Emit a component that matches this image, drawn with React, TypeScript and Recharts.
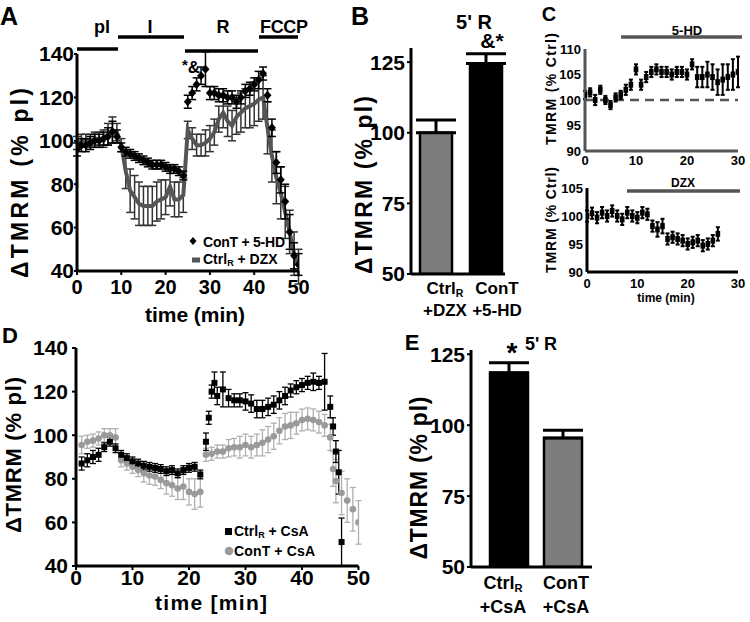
import React from 'react';
import { ComposedChart, BarChart, Bar, Line, XAxis, YAxis, ErrorBar, Cell, ReferenceLine } from 'recharts';

const FONT = '"Liberation Sans", Arial, Helvetica, sans-serif';

// A: TMRM time course (min), ConT + 5-HD vs CtrlR + DZX
const timeA = [0, 1, 2, 3, 4, 5, 6, 7, 8, 9, 10, 11, 12, 13, 14, 15, 16, 17, 18, 19, 20, 21, 22, 23, 24, 25, 26, 27, 28, 29, 30, 31, 32, 33, 34, 35, 36, 37, 38, 39, 40, 41, 42, 43, 44, 45, 46, 47, 48, 49, 50];
const conT5HD = [96, 98, 98, 99, 100, 100, 101, 102, 104, 102, 97, 95, 94, 93, 92, 91, 90, 89, 89, 89, 88, 87, 87, 86, 84, 118, 122, 126, 130, 133, 122, 122, 121, 121, 120, 120, 118, 120, 123, 124, 126, 128, 131, 121, 106, 90, 82, 72, 58, 47, 43];
const conT5HDErr = [3, 3, 3, 3, 3, 3, 3, 4, 5, 3, 2, 2, 2, 2, 2, 2, 2, 2, 2, 2, 2, 2, 2, 2, 2, 3, 3, 3, 4, 8, 3, 3, 3, 3, 3, 3, 3, 3, 3, 3, 3, 4, 3, 3, 4, 5, 6, 8, 8, 6, 5];
const ctrlDZX = [99, 100, 100, 100, 101, 101, 101, 103, 105, 104, 98, 86, 77, 74, 71, 70, 70, 70, 72, 73, 74, 79, 73, 73, 75, 105, 101, 98, 98, 99, 101, 104, 110, 113, 109, 107, 111, 113, 115, 116, 117, 119, 120, 106, 93, 83, 76, 67, 58, 48, 42];
const ctrlDZXErr = [3, 3, 3, 3, 3, 3, 4, 5, 6, 4, 3, 8, 10, 10, 10, 9, 9, 9, 9, 9, 8, 9, 8, 8, 8, 4, 5, 5, 5, 6, 6, 6, 6, 7, 7, 7, 8, 9, 9, 10, 10, 10, 10, 12, 12, 12, 12, 12, 10, 10, 8];
const ticksAX = [0, 10, 20, 30, 40, 50];
const ticksAY = [40, 60, 80, 100, 120, 140];

// B: 5' reperfusion bars
const catB = ['CtrlR + DZX', 'ConT + 5-HD'];
const valB = [100, 124.5];
const errB = [4.5, 3.5];
const tickMainB = ['Ctrl', 'ConT'];
const tickSubB = ['R', ''];
const tickLine2B = ['+DZX', '+5-HD'];
const ticksBY = [50, 75, 100, 125];

// C: TMRM (% Ctrl) with 5-HD (top) and DZX (bottom)
const timeC5HD = [0, 1, 2, 3, 4, 5, 6, 7, 8, 9, 10, 11, 12, 13, 14, 15, 16, 17, 18, 19, 20, 21, 22, 23, 24, 25, 26, 27, 28, 29, 30];
const tmrm5HD = [101, 101.5, 100, 102, 100, 99, 100.5, 101, 102, 103, 106, 103, 104.5, 105.5, 106, 105.5, 105.5, 105, 105.5, 105.5, 105, 107, 104.5, 104.5, 105, 104.5, 103.5, 104, 104.5, 105, 105.5];
const tmrm5HDErr = [0.8, 0.8, 1, 0.8, 0.8, 0.8, 0.8, 0.8, 1, 1, 1, 1, 1, 1, 1, 1, 1, 1, 1, 1, 1, 1, 2, 2, 2.5, 2.5, 2.5, 3, 2.5, 3, 3];
const timeCDZX = [0, 1, 2, 3, 4, 5, 6, 7, 8, 9, 10, 11, 12, 13, 14, 15, 16, 17, 18, 19, 20, 21, 22, 23, 24, 25, 26];
const tmrmDZX = [100, 100.5, 99.7, 100.6, 100, 100.9, 100, 99.4, 100.6, 100, 99.7, 100.6, 100.3, 98.2, 97.6, 98.2, 95.9, 96.2, 95.9, 95.6, 95, 95.3, 95.6, 94.7, 95, 95.6, 96.8];
const tmrmDZXErr = [1, 1, 1, 1, 1, 1, 1, 1, 1, 1, 1, 1, 1, 1, 1.3, 1.3, 1, 1, 1, 1, 1, 1, 1, 1, 1, 1, 1.2];
const ticksCX = [0, 10, 20, 30];
const ticksCTopY = [90, 95, 100, 105, 110];
const ticksCBotY = [90, 95, 100, 105];

// D: CsA time course
const timeDCtrl = [1, 2, 3, 4, 5, 6, 7, 8, 9, 10, 11, 12, 13, 14, 15, 16, 17, 18, 19, 20, 21, 22, 23, 23.5, 24, 24.5, 25, 26, 27, 28, 29, 30, 31, 32, 33, 34, 35, 36, 37, 38, 39, 40, 41, 42, 43, 44, 45, 45.5, 46, 46.5, 47];
const ctrlCsA = [87, 88.5, 90, 91, 94.5, 97, 94, 91, 89.5, 88, 87, 86, 85.5, 85, 84.5, 83.5, 84, 82.5, 84, 85, 85.5, 82, 97, 108, 120, 124, 118, 121, 117, 116, 116, 115.5, 114.5, 112, 112, 113, 114, 116, 118, 120.5, 122, 123, 124, 124.5, 124, 124.5, 113, 104, 92.5, 83, 51];
const ctrlCsAErr = [3, 3, 3, 3, 2, 2, 2, 2, 2, 2, 2, 2, 2, 2, 2, 2, 2, 2, 2, 2, 2, 2, 4, 3, 3, 5, 4, 8, 4, 3, 3, 4, 4, 4, 4, 4, 4, 4, 4, 3, 3, 3, 3, 4, 3, 13, 5, 4, 5, 10, 11];
const timeDConT = [1, 2, 3, 4, 5, 6, 7, 8, 9, 10, 11, 12, 13, 14, 15, 16, 17, 18, 19, 20, 21, 22, 23, 24, 25, 26, 27, 28, 29, 30, 31, 32, 33, 34, 35, 36, 37, 38, 39, 40, 41, 42, 43, 44, 45, 45.5, 46, 47, 48, 49, 50];
const conTCsA = [95.5, 97, 97.5, 98.5, 100, 100, 99, 88.5, 87, 85.5, 84, 82.5, 81.5, 81, 79.5, 78, 77, 75.5, 76.5, 74, 73, 74, 91, 91.5, 92.5, 92.5, 94, 94.5, 94.5, 95.5, 94.5, 95.5, 96.5, 98, 99.5, 102, 104, 104.5, 105.5, 107, 107.5, 107, 106, 104.5, 99, 84.5, 79, 73.5, 70, 66, 60];
const conTCsAErr = [4, 3, 3, 3, 3, 3, 4, 3, 3, 3, 3, 4, 4, 4, 4, 5, 5, 5, 6, 6, 7, 7, 3, 3, 3, 3, 4, 4, 5, 5, 5, 5, 6, 6, 6, 6, 6, 6, 5, 5, 5, 5, 5, 5, 6, 8, 10, 10, 10, 10, 10];

// E: 5' reperfusion with CsA
const catE = ['CtrlR + CsA', 'ConT + CsA'];
const valE = [118.5, 95.5];
const errE = [3.5, 2.7];
const tickMainE = ['Ctrl', 'ConT'];
const tickSubE = ['R', ''];
const tickLine2E = ['+CsA', '+CsA'];

const rowsA = timeA.map((t, i) => ({ t, a: conT5HD[i], aErr: conT5HDErr[i], b: ctrlDZX[i], bErr: ctrlDZXErr[i] }));
// bar error bars only point upward
const rowsB = catB.map((name, i) => ({ name, v: valB[i], e: [0, errB[i]] }));
const rowsC5HD = timeC5HD.map((t, i) => ({ t, v: tmrm5HD[i], e: tmrm5HDErr[i] }));
const rowsCDZX = timeCDZX.map((t, i) => ({ t, v: tmrmDZX[i], e: tmrmDZXErr[i] }));
const rowsDCtrl = timeDCtrl.map((t, i) => ({ t, v: ctrlCsA[i], e: ctrlCsAErr[i] }));
const rowsDConT = timeDConT.map((t, i) => ({ t, v: conTCsA[i], e: conTCsAErr[i] }));
const rowsE = catE.map((name, i) => ({ name, v: valE[i], e: [0, errE[i]] }));

const axisBlack = { stroke: '#000', strokeWidth: 3 };
const tickLineBlack = { stroke: '#000', strokeWidth: 2 };
const tickBig = { fill: '#000', fontSize: 21, fontWeight: 'bold', fontFamily: FONT };
const tickSmall = { fill: '#000', fontSize: 13, fontWeight: 'bold', fontFamily: FONT };

const diamond = (p: any) =>
  p.cy == null ? null : (
    <path key={`dm${p.index}`} d={`M${p.cx},${p.cy - 4.5}L${p.cx + 4},${p.cy}L${p.cx},${p.cy + 4.5}L${p.cx - 4},${p.cy}Z`} fill="#000" />
  );
const square = (p: any) =>
  p.cy == null ? null : <rect key={`sq${p.index}`} x={p.cx - 3} y={p.cy - 3} width={6} height={6} fill="#000" />;
const circle = (p: any) =>
  p.cy == null ? null : <circle key={`ci${p.index}`} cx={p.cx} cy={p.cy} r={3.3} fill="#9a9a9a" />;
const dash = (p: any) =>
  p.cy == null ? null : <rect key={`ds${p.index}`} x={p.cx - 2.3} y={p.cy - 3} width={4.6} height={6} fill="#000" />;

const BarTick = (props: any) => {
  const { x, y, payload, cats, main, sub, line2, shift, size } = props;
  const i = cats.indexOf(payload.value);
  const cx = x + shift[i];
  return (
    <g>
      <text x={cx} y={y + shift[2]} textAnchor="middle" dominantBaseline="central" fontSize={size} fontWeight="bold" fontFamily={FONT} fill="#000">
        {main[i]}
        {sub[i] ? (
          <tspan fontSize={size * 0.62} dy={5}>{sub[i]}</tspan>
        ) : null}
      </text>
      <text x={cx} y={y + shift[3]} textAnchor="middle" dominantBaseline="central" fontSize={size} fontWeight="bold" fontFamily={FONT} fill="#000">
        {line2[i]}
      </text>
    </g>
  );
};

const T = ({ x, y, size, children, anchor = 'middle', len, rot, fill = '#000' }: any) => (
  <text
    x={x}
    y={y}
    fontSize={size}
    fontWeight="bold"
    fontFamily={FONT}
    fill={fill}
    textAnchor={anchor}
    dominantBaseline="central"
    textLength={len}
    lengthAdjust={len ? 'spacing' : undefined}
    transform={rot ? `rotate(-90 ${x} ${y})` : undefined}
  >
    {children}
  </text>
);

const pos = (left: number, top: number): React.CSSProperties => ({ position: 'absolute', left, top });

export default function App() {
  return (
    <div style={{ position: 'absolute', left: 0, top: 0, width: 750, height: 622, background: '#fff', overflow: 'hidden' }}>
      {/* A */}
      <div style={pos(0, 0)}>
        <ComposedChart width={312} height={300} data={rowsA} margin={{ top: 54, right: 13.5, bottom: 0, left: 0 }}>
          <XAxis dataKey="t" type="number" domain={[0, 50]} ticks={ticksAX} interval={0} height={29} axisLine={axisBlack} tickLine={tickLineBlack} tickSize={4} tickMargin={5} tick={{ ...tickBig, fontSize: 20 }} allowDataOverflow />
          <YAxis type="number" domain={[40, 140]} ticks={ticksAY} interval={0} width={77} axisLine={axisBlack} tickLine={tickLineBlack} tickSize={3} tickMargin={0} tick={tickBig} allowDataOverflow />
          <Line dataKey="b" stroke="#555" strokeWidth={4} dot={false} isAnimationActive={false}>
            <ErrorBar dataKey="bErr" direction="y" width={4} stroke="#333" strokeWidth={1.5} />
          </Line>
          <Line dataKey="a" stroke="none" dot={diamond} isAnimationActive={false}>
            <ErrorBar dataKey="aErr" direction="y" width={4} stroke="#000" strokeWidth={1.5} />
          </Line>
        </ComposedChart>
      </div>

      {/* B */}
      <div style={pos(320, 0)}>
        <BarChart width={215} height={330} data={rowsB} margin={{ top: 48, right: 30, bottom: 0, left: 0 }} barSize={32}>
          <XAxis dataKey="name" type="category" height={56} padding={{ left: 0, right: -6 }} axisLine={axisBlack} tickLine={false} tickSize={0} tickMargin={0} interval={0}
            tick={<BarTick cats={catB} main={tickMainB} sub={tickSubB} line2={tickLine2B} shift={[9, 11, 14, 36]} size={17} />} />
          <YAxis type="number" domain={[50, 130]} ticks={ticksBY} interval={0} width={91} axisLine={axisBlack} tickLine={tickLineBlack} tickSize={4} tickMargin={2} tick={tickBig} allowDataOverflow />
          <Bar dataKey="v" stroke="#000" strokeWidth={2.5} isAnimationActive={false}>
            {rowsB.map((r, i) => (
              <Cell key={r.name} fill={i === 0 ? '#7d7d7d' : '#000'} />
            ))}
            <ErrorBar dataKey="e" direction="y" width={20} stroke="#000" strokeWidth={3} />
          </Bar>
        </BarChart>
      </div>

      {/* C top: 5-HD */}
      <div style={pos(540, 30)}>
        <ComposedChart width={210} height={145} data={rowsC5HD} margin={{ top: 19, right: 12, bottom: 0, left: 0 }}>
          <XAxis dataKey="t" type="number" domain={[0, 30]} ticks={ticksCX} interval={0} height={24} axisLine={{ stroke: '#555', strokeWidth: 3 }} tickLine={false} tickSize={3} tickMargin={2} tick={tickSmall} allowDataOverflow />
          <YAxis type="number" domain={[90, 110]} ticks={ticksCTopY} interval={0} width={45} axisLine={{ stroke: '#555', strokeWidth: 3 }} tickLine={false} tickSize={3} tickMargin={1} tick={tickSmall} allowDataOverflow />
          <ReferenceLine y={100} stroke="#555" strokeWidth={2.5} strokeDasharray="9 6" />
          <Line dataKey="v" stroke="none" dot={dash} isAnimationActive={false}>
            <ErrorBar dataKey="e" direction="y" width={2} stroke="#000" strokeWidth={2} />
          </Line>
        </ComposedChart>
      </div>

      {/* C bottom: DZX */}
      <div style={pos(540, 180)}>
        <ComposedChart width={210} height={110} data={rowsCDZX} margin={{ top: 8, right: 12, bottom: 0, left: 0 }}>
          <XAxis dataKey="t" type="number" domain={[0, 30]} ticks={ticksCX} interval={0} height={18} axisLine={axisBlack} tickLine={false} tickSize={3} tickMargin={4} tick={tickSmall} allowDataOverflow />
          <YAxis type="number" domain={[90, 105]} ticks={ticksCBotY} interval={0} width={47} axisLine={axisBlack} tickLine={false} tickSize={3} tickMargin={1} tick={tickSmall} allowDataOverflow />
          <Line dataKey="v" stroke="none" dot={dash} isAnimationActive={false}>
            <ErrorBar dataKey="e" direction="y" width={2} stroke="#000" strokeWidth={2} />
          </Line>
        </ComposedChart>
      </div>

      {/* D */}
      <div style={pos(0, 300)}>
        <ComposedChart width={370} height={322} margin={{ top: 48, right: 11.5, bottom: 0, left: 0 }}>
          <XAxis dataKey="t" type="number" domain={[0, 50]} ticks={ticksAX} interval={0} height={56} axisLine={axisBlack} tickLine={tickLineBlack} tickSize={4} tickMargin={0} tick={tickBig} allowDataOverflow />
          <YAxis type="number" domain={[40, 140]} ticks={ticksAY} interval={0} width={76} axisLine={axisBlack} tickLine={tickLineBlack} tickSize={4} tickMargin={4} tick={tickBig} allowDataOverflow />
          <Line data={rowsDConT} dataKey="v" stroke="none" dot={circle} isAnimationActive={false}>
            <ErrorBar dataKey="e" direction="y" width={3} stroke="#b0b0b0" strokeWidth={1.3} />
          </Line>
          <Line data={rowsDCtrl} dataKey="v" stroke="none" dot={square} isAnimationActive={false}>
            <ErrorBar dataKey="e" direction="y" width={3} stroke="#000" strokeWidth={1.3} />
          </Line>
        </ComposedChart>
      </div>

      {/* E */}
      <div style={pos(380, 300)}>
        <BarChart width={230} height={322} data={rowsE} margin={{ top: 50, right: 18, bottom: 0, left: 0 }} barSize={38}>
          <XAxis dataKey="name" type="category" height={55} padding={{ left: 11, right: 2 }} axisLine={axisBlack} tickLine={false} tickSize={0} tickMargin={0} interval={0}
            tick={<BarTick cats={catE} main={tickMainE} sub={tickSubE} line2={tickLine2E} shift={[-6, 3, 16, 40]} size={18} />} />
          <YAxis type="number" domain={[50, 126.5]} ticks={ticksBY} interval={0} width={91} axisLine={axisBlack} tickLine={tickLineBlack} tickSize={4} tickMargin={2} tick={tickBig} allowDataOverflow />
          <Bar dataKey="v" stroke="#000" strokeWidth={2.5} isAnimationActive={false}>
            {rowsE.map((r, i) => (
              <Cell key={r.name} fill={i === 0 ? '#000' : '#7d7d7d'} />
            ))}
            <ErrorBar dataKey="e" direction="y" width={20} stroke="#000" strokeWidth={3} />
          </Bar>
        </BarChart>
      </div>

      {/* labels and annotations */}
      <svg width={750} height={622} style={{ position: 'absolute', left: 0, top: 0, pointerEvents: 'none' }}>
        <T x={9} y={16} size={25}>A</T>
        <T x={360} y={16} size={25}>B</T>
        <T x={549} y={14} size={20}>C</T>
        <T x={10} y={335} size={22}>D</T>
        <T x={412} y={342} size={22}>E</T>

        {/* A protocol bars */}
        <line x1={77} x2={118} y1={49} y2={49} stroke="#000" strokeWidth={3.5} />
        <line x1={118} x2={184} y1={37} y2={37} stroke="#000" strokeWidth={3.5} />
        <line x1={185} x2={258} y1={51} y2={51} stroke="#000" strokeWidth={3.5} />
        <line x1={259} x2={298} y1={37} y2={37} stroke="#000" strokeWidth={3.5} />
        <T x={102} y={27} size={18}>pl</T>
        <T x={150} y={27} size={18}>I</T>
        <T x={223} y={27} size={18}>R</T>
        <T x={284} y={27} size={18} len={48}>FCCP</T>
        <T x={185} y={64} size={15}>*</T>
        <T x={194} y={67} size={17}>&amp;</T>
        <T x={20} y={183} size={23} len={190} rot>ΔTMRM  (% pl)</T>
        <T x={195} y={314} size={21} len={100}>time (min)</T>
        <path d="M193,237L196.5,241L193,245L189.5,241Z" fill="#000" />
        <T x={203} y={242} size={14} anchor="start" len={82}>ConT + 5-HD</T>
        <rect x={192} y={257.5} width={8} height={5} fill="#555" />
        <T x={203} y={259} size={14} anchor="start">
          Ctrl<tspan fontSize={9} dy={4}>R</tspan><tspan dy={-4}> + DZX</tspan>
        </T>

        {/* B */}
        <T x={474} y={22} size={20}>5' R</T>
        <T x={492} y={40} size={21}>&amp;*</T>
        <T x={364} y={185} size={23} len={178} rot>ΔTMRM  (% pl)</T>

        {/* C */}
        <line x1={621} x2={742} y1={37} y2={37} stroke="#555" strokeWidth={3.5} />
        <T x={687} y={30} size={13}>5-HD</T>
        <line x1={627} x2={740} y1={191} y2={191} stroke="#555" strokeWidth={3.5} />
        <T x={683} y={183} size={12}>DZX</T>
        <T x={551} y={89} size={14} len={112} rot>TMRM (% Ctrl)</T>
        <T x={551} y={220} size={14} len={106} rot>TMRM (% Ctrl)</T>
        <T x={666} y={298} size={12}>time (min)</T>

        {/* D */}
        <T x={13} y={455} size={22} len={156} rot>ΔTMRM (% pl)</T>
        <T x={211} y={602} size={21} len={112}>time [min]</T>
        <rect x={225} y={528} width={7} height={7} fill="#000" />
        <T x={234} y={531} size={14} anchor="start">
          Ctrl<tspan fontSize={9} dy={4}>R</tspan><tspan dy={-4}> + CsA</tspan>
        </T>
        <circle cx={229} cy={551} r={4.3} fill="#9a9a9a" />
        <T x={234} y={551} size={14} anchor="start" len={81}>ConT + CsA</T>

        {/* E */}
        <T x={512} y={352} size={28}>*</T>
        <T x={525} y={344} size={18} anchor="start" len={32}>5' R</T>
        <T x={419} y={478} size={23} len={163} rot>ΔTMRM  (% pl)</T>
      </svg>
    </div>
  );
}
